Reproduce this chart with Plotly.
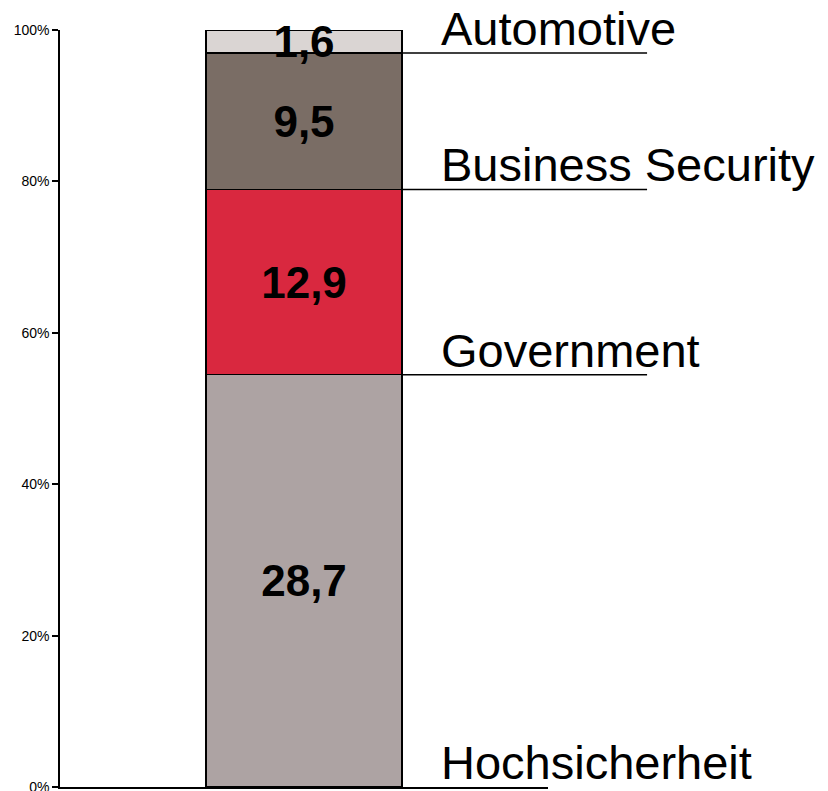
import plotly.graph_objects as go

# ---- data ----
segments = ["Hochsicherheit", "Government", "Business Security", "Automotive"]
values = [28.7, 12.9, 9.5, 1.6]
colors = ["#ADA3A3", "#D9283F", "#7A6D65", "#DAD5D3"]
y_ticks = [0, 20, 40, 60, 80, 100]

total = sum(values)
shares = [v / total * 100 for v in values]
bottoms = []
acc = 0.0
for s in shares:
    bottoms.append(acc)
    acc += s

FONT = "Liberation Sans, Arial, sans-serif"
XR = [-1.245, 1.245]
BAR_W = 1.0

fig = go.Figure()
for name, v, s, c in zip(segments, values, shares, colors):
    fig.add_trace(go.Bar(
        x=[0], y=[s], name=name, width=BAR_W,
        marker=dict(color=c, line=dict(color="black", width=1.5)),
        text=[f"{v:.1f}".replace(".", ",")],
        textposition="inside", insidetextanchor="middle", textangle=0,
        constraintext="none", cliponaxis=False,
        textfont=dict(family=FONT, size=44, color="black", weight="bold"),
        hoverinfo="skip", showlegend=False,
    ))

def to_paper(xv):
    return (xv - XR[0]) / (XR[1] - XR[0])

bar_right = to_paper(BAR_W / 2)
shapes = []
annotations = []
for i, (name, b) in enumerate(zip(segments, bottoms)):
    if i > 0:
        shapes.append(dict(type="line", xref="paper", yref="y",
                           x0=bar_right, x1=1.203, y0=b, y1=b,
                           line=dict(color="black", width=1.5)))
    annotations.append(dict(xref="paper", yref="y", x=0.777, y=b,
                            xanchor="left", yanchor="bottom", yshift=-4,
                            text=name, showarrow=False,
                            font=dict(family=FONT, size=47, color="black")))

fig.update_layout(
    width=828, height=791,
    margin=dict(l=60, r=280, t=30, b=4, autoexpand=False),
    barmode="stack",
    plot_bgcolor="white", paper_bgcolor="white",
    font=dict(family=FONT, color="black"),
    shapes=shapes, annotations=annotations,
    xaxis=dict(range=XR, showline=True, linecolor="black", linewidth=1.5,
               showticklabels=False, ticks="", showgrid=False, zeroline=False,
               fixedrange=True, automargin=False),
    yaxis=dict(range=[0, 100], tickvals=y_ticks,
               ticktext=[f"{t}%" for t in y_ticks],
               showline=True, linecolor="black", linewidth=1.5,
               ticks="outside", ticklen=6, tickcolor="black", tickwidth=1.5,
               ticklabeloverflow="allow", automargin=False,
               tickfont=dict(family=FONT, size=14, color="black"),
               showgrid=False, zeroline=False, fixedrange=True),
)

fig.write_html("out.html", config={"displayModeBar": False},
               post_script="document.body.style.margin='0';")
